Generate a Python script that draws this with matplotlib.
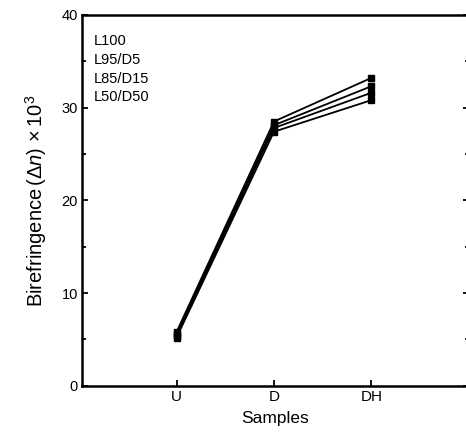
import matplotlib.pyplot as plt
import matplotlib.ticker as mticker
from matplotlib.lines import Line2D

plt.rcParams['font.family'] = ['Liberation Sans', 'DejaVu Sans']
plt.rcParams['mathtext.fontset'] = 'custom'
plt.rcParams['mathtext.rm'] = 'Liberation Sans'
plt.rcParams['mathtext.it'] = 'Liberation Sans:italic'

samples = ['U', 'D', 'DH']
blends = ['L100', 'L95/D5', 'L85/D15', 'L50/D50']
l100 = [5.8, 28.5, 33.2]
l95_d5 = [5.6, 28.1, 32.3]
l85_d15 = [5.4, 27.8, 31.6]
l50_d50 = [5.2, 27.4, 30.8]

fig = plt.figure(figsize=(4.66, 4.43), dpi=100)
ax = fig.add_axes([0.176, 0.129, 0.830, 0.8375])

pos = [1, 2, 3]
for vals in [l100, l95_d5, l85_d15, l50_d50]:
    ax.plot(pos, vals, color='black', lw=1.3, marker='s', ms=4.5,
            mfc='black', mec='black')

ax.set_xlim(0.03, 4.0)
ax.set_ylim(0, 40)
ax.set_xticks(pos)
ax.set_xticklabels(samples)
ax.set_yticks([0, 10, 20, 30, 40])
ax.yaxis.set_minor_locator(mticker.MultipleLocator(5))
ax.tick_params(axis='both', which='both', direction='in', labelsize=10.5,
               right=True, width=1.3)
ax.tick_params(axis='x', labelsize=11)
ax.tick_params(axis='both', which='major', length=4, pad=3)
ax.tick_params(axis='both', which='minor', length=3)
for s in ax.spines.values():
    s.set_linewidth(1.8)

ax.set_xlabel('Samples', fontsize=12.5, labelpad=5)
ax.set_ylabel(r'Birefringence$\,(\mathit{\Delta n})\,\times10^3$', fontsize=14.5, labelpad=9)

handles = [Line2D([], [], linestyle='none') for _ in blends]
ax.legend(handles, blends, loc='upper left', frameon=False, fontsize=10.5,
          handlelength=0, handletextpad=0, labelspacing=0.33,
          borderaxespad=0.4, bbox_to_anchor=(0.0, 0.98))

fig.savefig('out.png', dpi=100)
